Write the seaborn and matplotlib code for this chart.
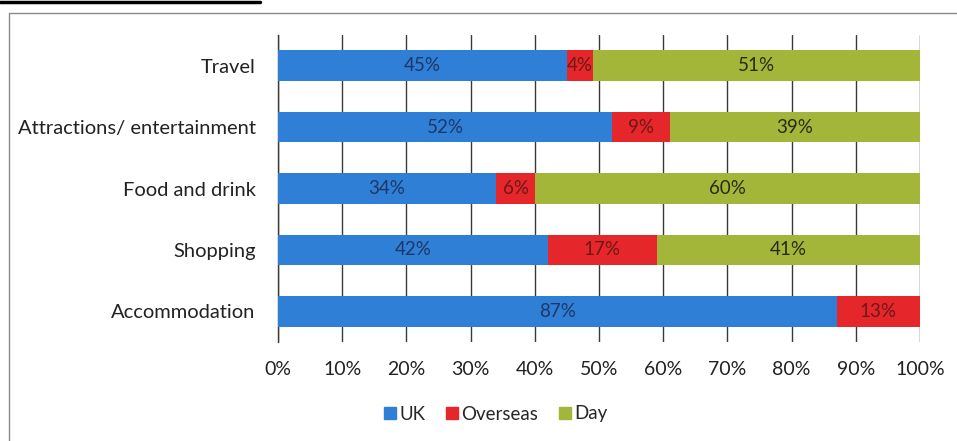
import numpy as np
import pandas as pd
import matplotlib
matplotlib.use('Agg')
import matplotlib.pyplot as plt
from matplotlib.lines import Line2D
import seaborn as sns

# --- data ---
categories = ['Travel', 'Attractions/ entertainment', 'Food and drink', 'Shopping', 'Accommodation']
uk = [45, 52, 34, 42, 87]
overseas = [4, 9, 6, 17, 13]
day = [51, 39, 60, 41, 0]
series_names = ['UK', 'Overseas', 'Day']

colors = {'UK': '#2f7fd6', 'Overseas': '#e5262a', 'Day': '#a3b63a'}
label_colors = {'UK': '#1e3766', 'Overseas': '#6e1818', 'Day': '#2a2a12'}

sns.set_style('white')
plt.rcParams['font.family'] = ['Lato', 'DejaVu Sans']

df = pd.DataFrame({'category': categories, 'UK': uk, 'Overseas': overseas, 'Day': day})
df['cum_uk'] = df['UK']
df['cum_ov'] = df['UK'] + df['Overseas']
df['cum_day'] = df['cum_ov'] + df['Day']

fig = plt.figure(figsize=(9.57, 4.41), dpi=100)
ax = fig.add_axes([278 / 957, 1 - 342 / 441, (920 - 278) / 957, (342 - 35) / 441])

# stacked bars drawn as overlapping cumulative totals
for col, name in [('cum_day', 'Day'), ('cum_ov', 'Overseas'), ('cum_uk', 'UK')]:
    sns.barplot(data=df, x=col, y='category', order=categories, color=colors[name],
                width=0.5, saturation=1, ax=ax, zorder=3, edgecolor='none')

# segment labels
for i in range(len(categories)):
    start = 0
    for name, vals in zip(series_names, [uk, overseas, day]):
        v = vals[i]
        if v > 0:
            ax.text(start + v / 2, i, f'{v}%', ha='center', va='center',
                    fontsize=13.5, color=label_colors[name], zorder=5)
        start += v

ax.set_xlim(0, 100)
ax.set_ylim(4.5, -0.5)
ax.set_xticks(np.arange(0, 101, 10))
ax.set_xticklabels([f'{t}%' for t in range(0, 101, 10)])
ax.set_xlabel('')
ax.set_ylabel('')
ax.xaxis.grid(True, color='#3a3a3a', linewidth=1.0, zorder=0)
ax.set_axisbelow(True)
ax.tick_params(axis='x', length=0, pad=14, labelsize=14, colors='#222222')
ax.tick_params(axis='y', length=0, pad=16, labelsize=14.5, colors='#222222')
for s in ['top', 'right', 'bottom']:
    ax.spines[s].set_visible(False)
ax.spines['left'].set_color('#3a3a3a')
ax.spines['left'].set_linewidth(1.0)

# legend
handles = [Line2D([0], [0], marker='s', linestyle='none', markersize=8,
                  markerfacecolor=colors[n], markeredgecolor=colors[n]) for n in series_names]
fig.legend(handles, series_names, loc='center', bbox_to_anchor=(495 / 957, 1 - 414 / 441),
           ncol=3, frameon=False, fontsize=13.5, handletextpad=0.1, columnspacing=1.0,
           handlelength=0.8)

# chart frame and scan edge
fig.add_artist(Line2D([9 / 957, 1.0], [1 - 13 / 441, 1 - 13 / 441], color='#8a8a8a', linewidth=1.0))
fig.add_artist(Line2D([9 / 957, 9 / 957], [0.0, 1 - 13 / 441], color='#8a8a8a', linewidth=1.0))
fig.add_artist(Line2D([0, 260 / 957], [1 - 1.5 / 441, 1 - 1.5 / 441], color='black', linewidth=2.5))

fig.savefig('out.png', dpi=100, facecolor='white')
